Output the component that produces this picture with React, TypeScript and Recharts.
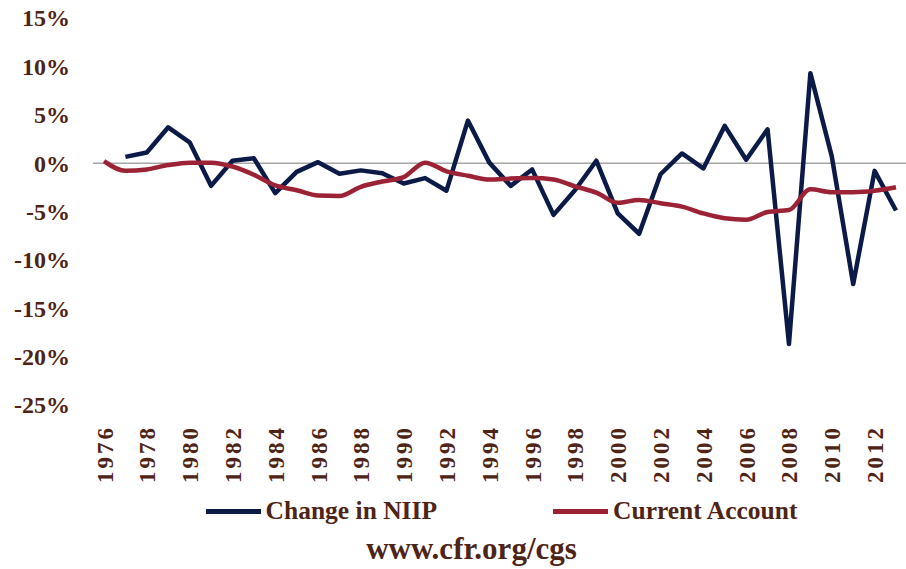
import React from "react";
import { LineChart, Line, XAxis, YAxis, ReferenceLine, Legend } from "recharts";

const years = [
  1976, 1977, 1978, 1979, 1980, 1981, 1982, 1983, 1984, 1985, 1986, 1987, 1988,
  1989, 1990, 1991, 1992, 1993, 1994, 1995, 1996, 1997, 1998, 1999, 2000, 2001,
  2002, 2003, 2004, 2005, 2006, 2007, 2008, 2009, 2010, 2011, 2012, 2013,
];
const changeInNiip: (number | null)[] = [
  null, 0.65, 1.1, 3.7, 2.15, -2.35, 0.25, 0.5, -3.1, -0.9, 0.1, -1.1, -0.75,
  -1.05, -2.1, -1.55, -2.85, 4.4, 0.05, -2.35, -0.65, -5.35, -2.8, 0.25, -5.2,
  -7.3, -1.15, 1.0, -0.55, 3.85, 0.35, 3.5, -18.7, 9.3, 0.7, -12.5, -0.8, -4.9,
];
const currentAccount: number[] = [
  0.2, -0.8, -0.65, -0.2, 0.05, 0.05, -0.35, -1.2, -2.3, -2.8, -3.35, -3.4,
  -2.45, -1.9, -1.45, 0.05, -0.85, -1.3, -1.7, -1.6, -1.55, -1.7, -2.4, -3.05,
  -4.1, -3.8, -4.15, -4.5, -5.2, -5.7, -5.85, -5.05, -4.85, -2.7, -3.0, -3.0,
  -2.85, -2.5,
];
const yTicks = [-25, -20, -15, -10, -5, 0, 5, 10, 15];

const NAVY = "#0c1a48";
const RED = "#9c2236";
const TEXT = "#4e2416";
const FONT = "'Liberation Serif', serif";

const data = years.map((y, i) => ({
  year: String(y),
  niip: changeInNiip[i],
  ca: currentAccount[i],
}));

const XTick = (props: any) => {
  const { x, y, payload } = props;
  return (
    <text
      transform={`translate(${x + 1},${y}) rotate(-90)`}
      textAnchor="end"
      dominantBaseline="central"
      fill={TEXT}
      style={{ fontFamily: FONT, fontWeight: 700, fontSize: 23, letterSpacing: 3 }}
    >
      {payload.value}
    </text>
  );
};

const YTick = (props: any) => {
  const { x, y, payload } = props;
  return (
    <text
      x={x}
      y={y}
      dy="0.35em"
      textAnchor="end"
      fill={TEXT}
      style={{ fontFamily: FONT, fontWeight: 700, fontSize: 24 }}
    >
      {`${payload.value}%`}
    </text>
  );
};

const LegendContent = (props: any) => {
  const items = (props.payload || []) as any[];
  return (
    <div
      style={{
        height: 70,
        paddingLeft: 97,
        boxSizing: "border-box",
        fontFamily: FONT,
        fontWeight: 700,
        color: TEXT,
      }}
    >
      <div
        style={{
          display: "flex",
          justifyContent: "center",
          alignItems: "center",
          height: 24,
          fontSize: 25.5,
        }}
      >
        {items.map((it, i) => (
          <div
            key={it.value}
            style={{
              display: "flex",
              alignItems: "center",
              marginRight: i === 0 ? 116 : 0,
            }}
          >
            <div
              style={{
                width: 55,
                height: 5,
                background: it.color,
                marginRight: 5,
              }}
            />
            <span style={{ lineHeight: "24px", whiteSpace: "nowrap" }}>
              {it.value}
            </span>
          </div>
        ))}
      </div>
      <div
        style={{
          marginTop: 12,
          textAlign: "center",
          fontSize: 31,
          lineHeight: "28px",
          paddingRight: 60,
          whiteSpace: "nowrap",
        }}
      >
        www.cfr.org/cgs
      </div>
    </div>
  );
};

export default function App() {
  return (
    <div style={{ position: "absolute", left: 0, top: 0, width: 906, height: 569, background: "#fff" }}>
      <LineChart
        width={906}
        height={569}
        data={data}
        margin={{ top: 18, right: 0, bottom: 0, left: 0 }}
      >
        <XAxis
          dataKey="year"
          scale="point"
          padding={{ left: 11, right: 10 }}
          interval={1}
          axisLine={false}
          tickLine={false}
          tickSize={0}
          tickMargin={20}
          height={94}
          tick={<XTick />}
        />
        <YAxis
          domain={[-25, 15]}
          ticks={yTicks}
          interval={0}
          width={93}
          axisLine={false}
          tickLine={false}
          tickSize={0}
          tickMargin={23}
          tick={<YTick />}
        />
        <ReferenceLine y={0} stroke="#a6a6a6" strokeWidth={1.5} />
        <Line
          dataKey="niip"
          name="Change in NIIP"
          type="linear"
          stroke={NAVY}
          strokeWidth={4.5}
          strokeLinejoin="round"
          dot={false}
          isAnimationActive={false}
        />
        <Line
          dataKey="ca"
          name="Current Account"
          type="monotone"
          stroke={RED}
          strokeWidth={4.5}
          strokeLinejoin="round"
          dot={false}
          isAnimationActive={false}
        />
        <Legend
          verticalAlign="bottom"
          height={70}
          content={<LegendContent />}
        />
      </LineChart>
    </div>
  );
}
